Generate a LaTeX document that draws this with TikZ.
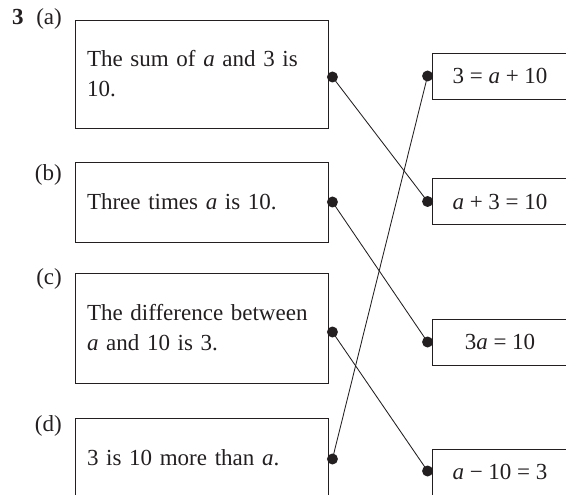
\documentclass[tikz,border=0pt]{standalone}
\usepackage{fontspec}
\setmainfont{Liberation Serif}
\definecolor{ink}{HTML}{231F20}
\begin{document}
\begin{tikzpicture}[x=1pt,y=-1pt,
  every node/.style={text=ink, font=\fontsize{23}{30}\selectfont},
  lbox/.style={draw=ink, line width=0.9pt, minimum width=253pt, inner xsep=12pt, inner ysep=0pt, text width=229pt, align=left},
  rbox/.style={draw=ink, line width=0.9pt, minimum width=136pt, minimum height=46pt, inner sep=0pt, align=center},
  lab/.style={anchor=base east, inner sep=0pt},
  dotc/.style={fill=ink, draw=none},
  link/.style={draw=ink, line width=0.85pt}
]
\clip (0,0) rectangle (566,495);
% question number and labels
\node[anchor=base west, inner sep=0pt, font=\fontsize{23}{30}\selectfont\bfseries] (num) at (12,25) {3};
\node[lab] (la) at (62,25) {(a)};
\node[lab] (lb) at (62,180) {(b)};
\node[lab] (lc) at (62,284) {(c)};
\node[lab] (ld) at (62,431) {(d)};
% left boxes
\node[lbox, minimum height=108pt] (A) at (201.5,74) {The sum of {\itshape a} and 3 is\\10.};
\node[lbox, minimum height=80pt] (B) at (201.5,202) {Three times {\itshape a} is 10.};
\node[lbox, minimum height=110pt] (C) at (201.5,328) {The difference between\\{\itshape a} and 10 is 3.};
\node[lbox, minimum height=80pt] (D) at (201.5,458) {3 is 10 more than {\itshape a}.};
% right boxes
\node[rbox] (R1) at (500,76) {3 = {\itshape a} + 10};
\node[rbox] (R2) at (500,201.5) {{\itshape a} + 3 = 10};
\node[rbox] (R3) at (500,342) {3{\itshape a} = 10};
\node[rbox] (R4) at (500,472) {{\itshape a} − 10 = 3};
% dot coordinates
\coordinate (dA) at ([xshift=4pt,yshift=-3pt]A.east);
\coordinate (dB) at ([xshift=4pt]B.east);
\coordinate (dC) at ([xshift=4pt,yshift=-4pt]C.east);
\coordinate (dD) at ([xshift=4pt,yshift=-1pt]D.east);
\coordinate (d1) at ([xshift=-4pt]R1.west);
\coordinate (d2) at ([xshift=-4pt]R2.west);
\coordinate (d3) at ([xshift=-4pt]R3.west);
\coordinate (d4) at ([xshift=-4pt,yshift=1pt]R4.west);
% connectors
\draw[link] (dA) -- (d2);
\draw[link] (dB) -- (d3);
\draw[link] (dC) -- (d4);
\draw[link] (dD) -- (d1);
% dots
\foreach \p in {dA,dB,dC,dD,d1,d2,d3,d4}
  \fill[dotc] (\p) circle (5.5pt);
\end{tikzpicture}
\end{document}
